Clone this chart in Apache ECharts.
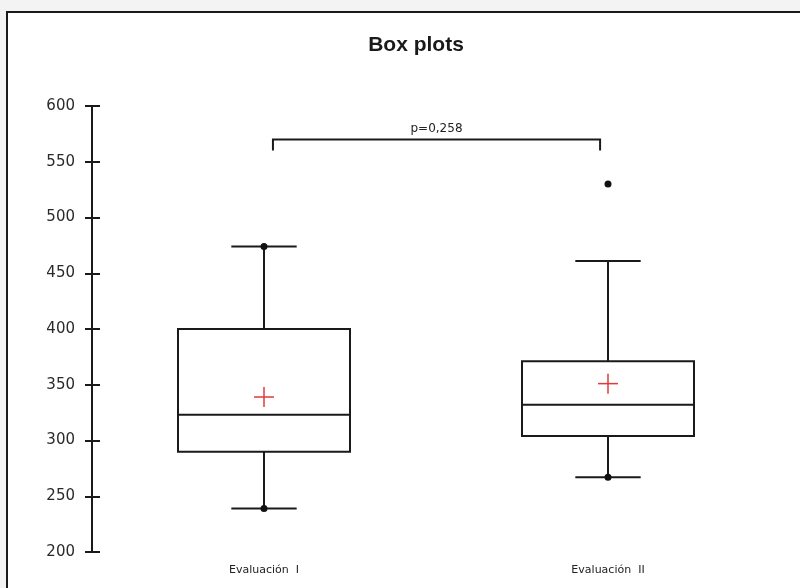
<!DOCTYPE html>
<html>
<head>
<meta charset="utf-8">
<script src="https://cdn.jsdelivr.net/npm/echarts@6/dist/echarts.min.js"></script>
<style>
  html, body { margin: 0; padding: 0; background: #f3f3f3; }
  #panel {
    position: absolute; left: 6px; top: 11px; width: 820px; height: 600px;
    background: #fff; border: 2px solid #1a1a1a;
  }
  #main { position: absolute; left: 0; top: 0; width: 800px; height: 588px; }
</style>
</head>
<body>
<div id="panel"></div>
<div id="main"></div>
<script>
// categories and box statistics
var categories = ["Evaluación  I", "Evaluación  II"];
var whiskerLow = [239, 267];
var q1 = [290, 304];
var median = [323, 332];
var q3 = [400, 371];
var whiskerHigh = [474, 461];
var means = [339, 351];
// extreme points drawn as dots
var minimum = [239, 267];
var maximum = [474, 530];
var yTicks = [200, 250, 300, 350, 400, 450, 500, 550, 600];
// significance bracket
var bracketTop = 570;
var bracketFoot = 560;
var pLabel = "p=0,258";

var myChart = echarts.init(document.getElementById("main"));

var boxData = categories.map(function (c, i) {
  return [i, whiskerLow[i], q1[i], median[i], q3[i], whiskerHigh[i], means[i]];
});
var dots = [];
categories.forEach(function (c, i) {
  dots.push([i, minimum[i]]);
  dots.push([i, maximum[i]]);
});

var ink = "#1a1a1a";
var option;
option = {
  animation: false,
  title: {
    text: "Box plots",
    left: 411,
    top: 30,
    textAlign: "center",
    textStyle: { fontFamily: "Liberation Sans", fontSize: 21, fontWeight: "bold", color: "#1a1a1a" },
  },
  grid: { left: 92, right: 20, top: 106, bottom: 36 },
  xAxis: {
    type: "category",
    data: categories,
    axisLine: { show: false },
    axisTick: { show: false },
    axisLabel: { fontFamily: "DejaVu Sans", fontSize: 11, color: "#222", margin: 13 },
  },
  yAxis: [
    {
      type: "value",
      min: yTicks[0],
      max: yTicks[yTicks.length - 1],
      interval: 50,
      axisLine: { show: true, lineStyle: { color: ink, width: 2 } },
      axisTick: { show: true, length: 7, lineStyle: { color: ink, width: 2 } },
      axisLabel: { fontFamily: "DejaVu Sans", fontSize: 15, color: "#2a2a2a", margin: 17 },
      splitLine: { show: false },
    },
    {
      type: "value",
      position: "left",
      min: yTicks[0],
      max: yTicks[yTicks.length - 1],
      interval: 50,
      axisLine: { show: false },
      axisTick: { show: true, inside: true, length: 8, lineStyle: { color: ink, width: 2 } },
      axisLabel: { show: false },
      splitLine: { show: false },
    },
  ],
  series: [
    {
      type: "custom",
      data: boxData,
      encode: { x: 0, y: [1, 2, 3, 4, 5] },
      renderItem: function (params, api) {
        var i = api.value(0);
        var band = api.size([1, 0])[0];
        var x = api.coord([i, 0])[0];
        var half = band * 0.25;
        var cap = band * 0.095;
        var y = function (v) { return api.coord([i, v])[1]; };
        var lo = y(api.value(1)), b1 = y(api.value(2)), md = y(api.value(3));
        var b3 = y(api.value(4)), hi = y(api.value(5)), mn = y(api.value(6));
        var line = { stroke: ink, lineWidth: 2 };
        var red = { stroke: "#e03a3a", lineWidth: 1.5 };
        return {
          type: "group",
          children: [
            { type: "line", shape: { x1: x, y1: lo, x2: x, y2: b1 }, style: line },
            { type: "line", shape: { x1: x, y1: b3, x2: x, y2: hi }, style: line },
            { type: "line", shape: { x1: x - cap, y1: lo, x2: x + cap, y2: lo }, style: line },
            { type: "line", shape: { x1: x - cap, y1: hi, x2: x + cap, y2: hi }, style: line },
            { type: "rect", shape: { x: x - half, y: b3, width: half * 2, height: b1 - b3 },
              style: { stroke: ink, lineWidth: 2, fill: "#fff" } },
            { type: "line", shape: { x1: x - half, y1: md, x2: x + half, y2: md }, style: line },
            { type: "line", shape: { x1: x - 10, y1: mn, x2: x + 10, y2: mn }, style: red },
            { type: "line", shape: { x1: x, y1: mn - 10, x2: x, y2: mn + 10 }, style: red },
          ],
        };
      },
      z: 2,
    },
    {
      type: "scatter",
      data: dots,
      symbol: "circle",
      symbolSize: 7,
      itemStyle: { color: "#111", opacity: 1 },
      z: 3,
    },
    {
      type: "custom",
      data: [[0, bracketTop, bracketFoot]],
      encode: { x: 0, y: [1, 2] },
      renderItem: function (params, api) {
        var band = api.size([1, 0])[0];
        var x1 = api.coord([0, 0])[0] + band * 0.026;
        var x2 = api.coord([1, 0])[0] - band * 0.023;
        var yt = api.coord([0, api.value(1)])[1];
        var yf = api.coord([0, api.value(2)])[1];
        var line = { stroke: ink, lineWidth: 2, fill: "none" };
        return {
          type: "group",
          children: [
            { type: "polyline", shape: { points: [[x1, yf], [x1, yt], [x2, yt], [x2, yf]] }, style: line },
            { type: "text", x: (x1 + x2) / 2, y: yt - 5,
              style: { text: pLabel, fontFamily: "DejaVu Sans", fontSize: 12, fill: "#222",
                align: "center", verticalAlign: "bottom" } },
          ],
        };
      },
      z: 2,
    },
  ],
};
option && myChart.setOption(option);
</script>
</body>
</html>
